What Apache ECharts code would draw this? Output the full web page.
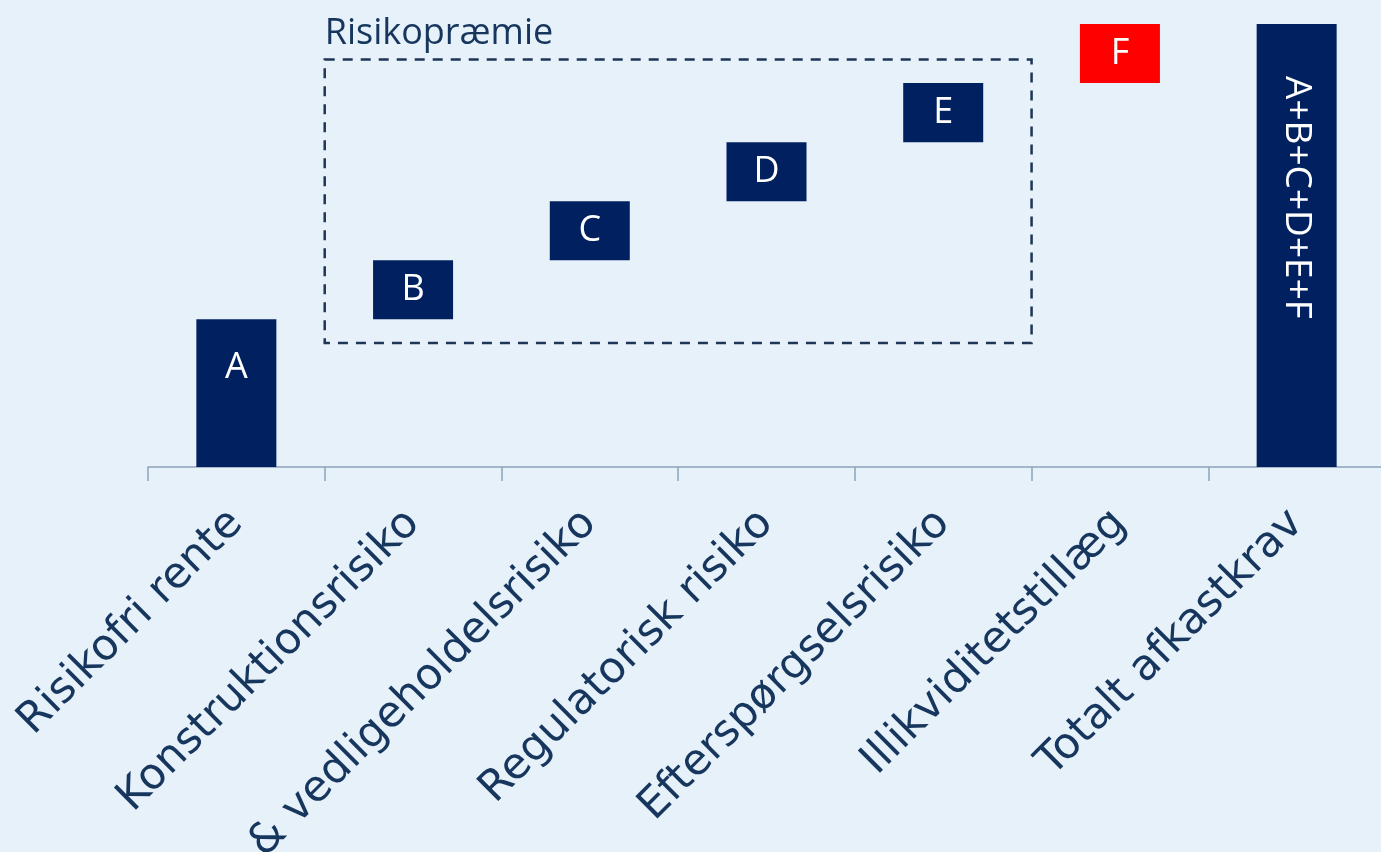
<!DOCTYPE html>
<html>
<head>
<meta charset="utf-8">
<script src="https://cdn.jsdelivr.net/npm/echarts@6/dist/echarts.min.js"></script>
<style>
html,body{margin:0;padding:0;background:#e6f1fa;}
#main{width:1381px;height:852px;}
</style>
</head>
<body>
<div id="main"></div>
<script>
// kategorier og trin i vandfaldet
var categories = ['Risikofri rente', 'Konstruktionsrisiko', '& vedligeholdelsrisiko', 'Regulatorisk risiko', 'Efterspørgselsrisiko', 'Illikviditetstillæg', 'Totalt afkastkrav'];
var steps = [2.5, 1, 1, 1, 1, 1];
var barLabels = ['A', 'B', 'C', 'D', 'E', 'F', 'A+B+C+D+E+F'];
// rammen om risikopræmien (kategori 1..4, y-værdier)
var boxCats = [1, 4];
var boxRange = [2.1, 6.9];

var navy = '#002060', red = '#ff0000', textColor = '#17365d';

var total = 0, bases = [], values = [];
for (var i = 0; i < steps.length; i++) {
	bases.push(total);
	values.push(steps[i]);
	total += steps[i];
}
bases.push(0);
values.push(total);

var chart = echarts.init(document.getElementById('main'));
var option = {
	backgroundColor: '#e6f1fa',
	animation: false,
	grid: { left: 148, top: 24, width: 1237, height: 443, outerBoundsMode: 'none', containLabel: false },
	xAxis: {
		type: 'category',
		data: categories,
		axisLine: { lineStyle: { color: '#8fa3ba', width: 1.5 } },
		axisTick: { show: true, alignWithLabel: false, length: 14, lineStyle: { color: '#8fa3ba', width: 1.5 } },
		axisLabel: {
			interval: 0,
			rotate: 45,
			margin: 50,
			fontFamily: 'DejaVu Sans',
			fontSize: 43,
			color: textColor
		}
	},
	yAxis: { type: 'value', min: 0, max: 7.5, show: false },
	series: [
		{
			type: 'bar',
			stack: 'w',
			barWidth: 80,
			silent: true,
			itemStyle: { color: 'transparent' },
			data: bases
		},
		{
			type: 'bar',
			stack: 'w',
			barWidth: 80,
			data: values.map(function (v, i) {
				var item = {
					value: v,
					itemStyle: { color: i == 5 ? red : navy },
					label: {
						show: true,
						formatter: barLabels[i],
						color: '#fff',
						fontFamily: 'Open Sans',
						fontSize: 36,
						position: 'inside'
					}
				};
				if (i == 0) {
					item.label.position = 'insideTop';
					item.label.distance = 30;
				}
				if (i == values.length - 1) {
					item.label.position = ['50%', 52];
					item.label.rotate = -90;
					item.label.align = 'left';
					item.label.verticalAlign = 'middle';
					item.label.fontSize = 37;
				}
				return item;
			})
		}
	]
};
chart.setOption(option);

// stiplet ramme omkring B..E
var c0 = chart.convertToPixel({ xAxisIndex: 0 }, categories[boxCats[0]]);
var c1 = chart.convertToPixel({ xAxisIndex: 0 }, categories[boxCats[1]]);
var band = chart.convertToPixel({ xAxisIndex: 0 }, categories[1]) - chart.convertToPixel({ xAxisIndex: 0 }, categories[0]);
var yTop = chart.convertToPixel({ yAxisIndex: 0 }, boxRange[1]);
var yBot = chart.convertToPixel({ yAxisIndex: 0 }, boxRange[0]);
var bx = c0 - band / 2, bx2 = c1 + band / 2;
chart.setOption({
	graphic: [
		{
			type: 'rect',
			shape: { x: bx, y: yTop, width: bx2 - bx, height: yBot - yTop },
			style: { fill: 'none', stroke: '#1f3556', lineWidth: 2.5, lineDash: [10, 8] },
			silent: true
		},
		{
			type: 'text',
			x: bx,
			y: yTop - 8,
			style: {
				text: 'Risikopræmie',
				fill: textColor,
				font: '36px "Open Sans"',
				textAlign: 'left',
				textVerticalAlign: 'bottom'
			}
		}
	]
});

window.addEventListener('resize', function () {
	chart.resize();
});
</script>
</body>
</html>
